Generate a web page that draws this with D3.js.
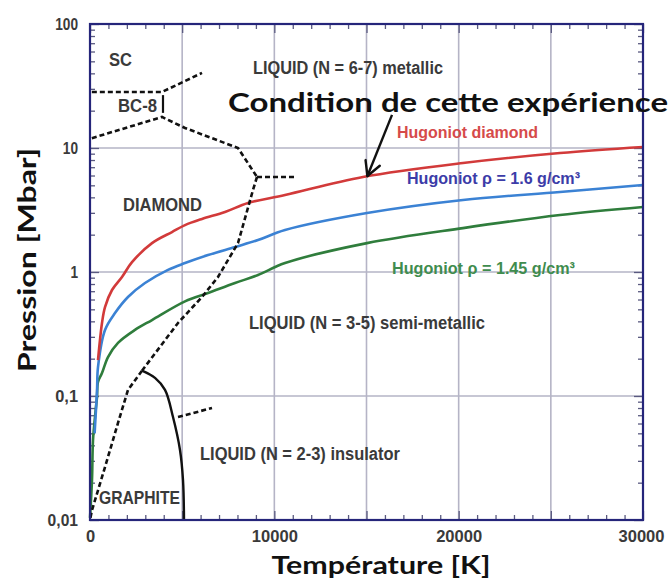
<!DOCTYPE html>
<html><head><meta charset="utf-8">
<script src="https://cdn.jsdelivr.net/npm/d3@7"></script>
<style>body{margin:0;background:#fff}svg{display:block}</style>
</head><body><svg id="c" width="670" height="580"></svg>
<script>
// ---- data (Temperature K, Pressure Mbar) ----
const hugDiamond = [[434,0.195],[651,0.388],[814,0.522],[1194,0.716],[1736,0.912],[2279,1.20],[3364,1.71],[4449,2.10],[5154,2.39],[6076,2.68],[7324,3.05],[8571,3.60],[10579,4.18],[14810,5.84],[20235,7.57],[25497,9.11],[30000,10.2]];
const hug16 = [[250,0.05],[380,0.11],[434,0.171],[814,0.341],[1356,0.467],[2061,0.629],[2984,0.815],[4232,1.04],[5154,1.18],[6402,1.37],[7866,1.59],[9114,1.81],[10579,2.18],[15027,2.99],[20235,3.81],[25497,4.42],[30000,5.03]];
const hug145 = [[0,0.0104],[108,0.021],[163,0.044],[300,0.075],[380,0.098],[434,0.13],[651,0.153],[977,0.206],[1519,0.268],[2441,0.341],[3364,0.41],[5154,0.58],[6402,0.677],[7866,0.815],[9114,0.946],[10579,1.18],[15027,1.71],[20235,2.26],[25497,2.88],[30000,3.34]];

const boundSC_BC8 = [[100,28.3],[3906,28.3],[6076,40.3]];
const boundBC8_Diamond = [[100,12.0],[3906,17.8],[5154,14.5],[8029,10.0],[9060,5.84]];
const boundMetallic = [[9060,5.84],[11121,5.84]];
const boundDiamondMelt = [[9060,5.84],[8843,4.59],[8029,1.71],[6944,0.912],[6076,0.629],[4774,0.388],[2821,0.16]];
const boundGraphiteMelt = [[2821,0.16],[2061,0.112],[1519,0.0606],[814,0.0267],[108,0.012],[0,0.01]];
const boundInsulator = [[4774,0.0677],[6619,0.080]];
const graphiteDiamondSolid = [[2821,0.16],[3526,0.140],[4069,0.112],[4503,0.0677],[4882,0.0367],[5045,0.021],[5100,0.01]];
const bc8Bar = [[3960,26.7],[3960,19.2]];

const xTicks = [0,10000,20000,30000];
const xTickLabels = ["0","10000","20000","30000"];
const yTicks = [0.01,0.1,1,10,100];
const yTickLabels = ["0,01","0,1","1","10","100"];
const arrowPts = [[16384,18.5],[15050,5.95]];

// ---- layout ----
const svg = d3.select("#c");
const L=90,R=643,T=24,B=520;
const x = d3.scaleLinear().domain([0,30000]).range([L,R]);
const y = d3.scaleLog().domain([0.01,100]).range([B,T]);

// gridlines
const grid = svg.append("g").attr("stroke","#b5b4c6").attr("stroke-width",1.6);
d3.range(5000,30000,5000).forEach(v=>grid.append("line").attr("x1",x(v)).attr("x2",x(v)).attr("y1",T).attr("y2",B));
[0.1,1,10].forEach(v=>grid.append("line").attr("x1",L).attr("x2",R).attr("y1",y(v)).attr("y2",y(v)));

// minor/major ticks
const tickCol="#5a5a80";
const minorY=[];[0.01,0.1,1,10].forEach(d=>{for(let k=2;k<10;k++)minorY.push(d*k);});
const minorX=d3.range(0,30001,1000).filter(v=>v%5000!==0);
const majorX=d3.range(0,30001,5000);
function tickAxis(axisFn, scale, vals, size, tr){
  const g=svg.append("g").attr("transform",tr).call(axisFn(scale).tickValues(vals).tickSize(size).tickFormat(""));
  g.select(".domain").remove();
  g.selectAll("line").attr("stroke",tickCol).attr("stroke-width",1.3);
}
tickAxis(d3.axisLeft,y,minorY,-5,`translate(${L},0)`);
tickAxis(d3.axisLeft,y,yTicks,-9,`translate(${L},0)`);
tickAxis(d3.axisRight,y,minorY,-5,`translate(${R},0)`);
tickAxis(d3.axisRight,y,yTicks,-9,`translate(${R},0)`);
tickAxis(d3.axisBottom,x,minorX,-5,`translate(0,${B})`);
tickAxis(d3.axisBottom,x,majorX,-9,`translate(0,${B})`);
tickAxis(d3.axisTop,x,minorX,-5,`translate(0,${T})`);
tickAxis(d3.axisTop,x,majorX,-9,`translate(0,${T})`);

// tick labels
const lblFont="'Liberation Sans', Arial, sans-serif";
const ya=svg.append("g").attr("transform",`translate(${L-12},0)`)
  .call(d3.axisLeft(y).tickValues(yTicks).tickSize(0).tickPadding(0).tickFormat((d,i)=>yTickLabels[i]));
ya.select(".domain").remove();
ya.selectAll("text").attr("font-family",lblFont).attr("font-weight","bold").attr("font-size",17).attr("fill","#3a3a3a")
  .attr("textLength",(d,i)=>yTickLabels[i].length*7.6).attr("lengthAdjust","spacingAndGlyphs");
const xa=svg.append("g").attr("transform",`translate(0,${B+10})`)
  .call(d3.axisBottom(x).tickValues(xTicks).tickSize(0).tickPadding(0).tickFormat((d,i)=>xTickLabels[i]));
xa.select(".domain").remove();
xa.selectAll("text").attr("font-family",lblFont).attr("font-weight","bold").attr("font-size",17).attr("fill","#3a3a3a")
  .attr("textLength",(d,i)=>xTickLabels[i].length*9.2).attr("lengthAdjust","spacingAndGlyphs");
xa.selectAll(".tick").filter(d=>d===30000).select("text").attr("dx",-2);

// lines
const line = d3.line().x(d=>x(d[0])).y(d=>y(d[1]));
const sline = d3.line().x(d=>x(d[0])).y(d=>y(d[1])).curve(d3.curveCatmullRom.alpha(0.5));
const plot=svg.append("g");
[[hug145,"#2f7d3c"],[hug16,"#3b82d4"],[hugDiamond,"#d23a3a"]].forEach(([d,c])=>{
  plot.append("path").attr("d",sline(d)).attr("fill","none").attr("stroke",c).attr("stroke-width",2.6).attr("stroke-linejoin","round");
});
[boundSC_BC8,boundBC8_Diamond,boundMetallic,boundDiamondMelt,boundGraphiteMelt,boundInsulator].forEach(d=>{
  plot.append("path").attr("d",line(d)).attr("fill","none").attr("stroke","#111").attr("stroke-width",2.6).attr("stroke-dasharray","5,3");
});
plot.append("path").attr("d",sline(graphiteDiamondSolid)).attr("fill","none").attr("stroke","#111").attr("stroke-width",2.4);
plot.append("path").attr("d",line(bc8Bar)).attr("fill","none").attr("stroke","#111").attr("stroke-width",2.2);

// frame
svg.append("rect").attr("x",L).attr("y",T).attr("width",R-L).attr("height",B-T)
  .attr("fill","none").attr("stroke","#25257a").attr("stroke-width",2.2);

// region labels
function lab(t,px,py,w,col,size){
  return svg.append("text").attr("x",px).attr("y",py).text(t)
    .attr("font-family",lblFont).attr("font-weight","bold").attr("font-size",size||18)
    .attr("fill",col||"#3a3a3a").attr("textLength",w).attr("lengthAdjust","spacingAndGlyphs");
}
lab("SC",109,66,23);
lab("LIQUID (N = 6-7) metallic",253,74,190);
lab("BC-8",118,112,39);
lab("DIAMOND",123,211,79);
lab("LIQUID (N = 3-5) semi-metallic",249,329,236);
lab("LIQUID (N = 2-3) insulator",200,460,200);
lab("GRAPHITE",99,504,81);
lab("Hugoniot diamond",397,138,141,"#d64a4a",17);
lab("Hugoniot ρ = 1.6 g/cm³",407,184,173,"#3c3ca8",17);
lab("Hugoniot ρ = 1.45 g/cm³",392,274,183,"#3f8c4e",17);

// annotation
const bigFont="Lato, 'Open Sans', sans-serif";
svg.append("text").attr("x",228).attr("y",112).text("Condition de cette expérience")
  .attr("font-family",bigFont).attr("font-weight","bold").attr("font-size",26).attr("fill","#111")
  .attr("textLength",440).attr("lengthAdjust","spacingAndGlyphs");
const [a0,a1]=arrowPts.map(p=>[x(p[0]),y(p[1])]);
svg.append("line").attr("x1",a0[0]).attr("y1",a0[1]).attr("x2",a1[0]).attr("y2",a1[1]).attr("stroke","#111").attr("stroke-width",2.4);
const ang=Math.atan2(a1[1]-a0[1],a1[0]-a0[0]);
[ang+Math.PI-0.5, ang+Math.PI+0.5].forEach(a=>{
  svg.append("line").attr("x1",a1[0]).attr("y1",a1[1]).attr("x2",a1[0]+16*Math.cos(a)).attr("y2",a1[1]+16*Math.sin(a))
    .attr("stroke","#111").attr("stroke-width",2.4).attr("stroke-linecap","round");
});

// axis titles
svg.append("text").attr("x",381).attr("y",574).attr("text-anchor","middle").text("Température [K]")
  .attr("font-family",bigFont).attr("font-weight","bold").attr("font-size",25).attr("fill","#111")
  .attr("textLength",219).attr("lengthAdjust","spacingAndGlyphs");
svg.append("text").attr("transform","translate(36,260) rotate(-90)").attr("text-anchor","middle").text("Pression [Mbar]")
  .attr("font-family",bigFont).attr("font-weight","bold").attr("font-size",25).attr("fill","#111")
  .attr("textLength",224).attr("lengthAdjust","spacingAndGlyphs");
</script></body></html>
